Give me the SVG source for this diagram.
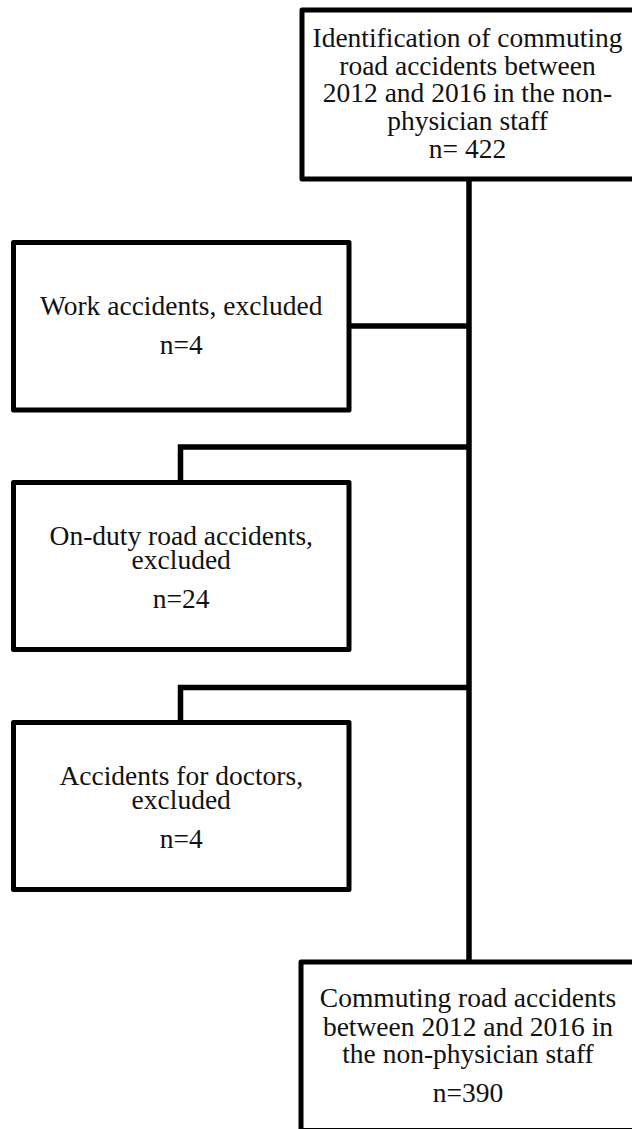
<svg xmlns="http://www.w3.org/2000/svg" width="632" height="1129" viewBox="0 0 632 1129">
<style>
.box{fill:#fff;stroke:#000;stroke-width:5;stroke-linejoin:round}
.con{fill:none;stroke:#000;stroke-width:5.5;stroke-linejoin:miter}
text{font-family:"Liberation Serif","Times New Roman",serif;font-size:27.5px;fill:#111;text-anchor:middle}
</style>
<rect width="632" height="1129" fill="#fff"/>
<g id="connectors">
<path class="con" d="M469,179 V962"/>
<path class="con" d="M349,326 H469"/>
<path class="con" d="M469,447 H180.5 V482.5"/>
<path class="con" d="M469,687.5 H180.5 V722.5"/>
</g>
<g id="identification">
<rect class="box" x="302" y="10" width="333" height="169"/>
<text x="467.5" y="47">Identification of commuting</text>
<text x="467.5" y="74.7">road accidents between</text>
<text x="467.5" y="102.4">2012 and 2016 in the non-</text>
<text x="467.5" y="130.1">physician staff</text>
<text x="467.5" y="157.8">n= 422</text>
</g>
<g id="work">
<rect class="box" x="13.5" y="242.5" width="335.5" height="167.5"/>
<text x="181.25" y="315">Work accidents, excluded</text>
<text x="181.25" y="354">n=4</text>
</g>
<g id="onduty">
<rect class="box" x="13.5" y="482.5" width="335.5" height="167"/>
<text x="181.25" y="545">On-duty road accidents,</text>
<text x="181.25" y="569.3">excluded</text>
<text x="181.25" y="608.3">n=24</text>
</g>
<g id="doctors">
<rect class="box" x="13.5" y="722.5" width="335.5" height="167"/>
<text x="181.25" y="785">Accidents for doctors,</text>
<text x="181.25" y="809.3">excluded</text>
<text x="181.25" y="848.3">n=4</text>
</g>
<g id="result">
<rect class="box" x="301" y="962" width="334" height="168.5"/>
<text x="468" y="1006.7">Commuting road accidents</text>
<text x="468" y="1035.5">between 2012 and 2016 in</text>
<text x="468" y="1062.7">the non-physician staff</text>
<text x="468" y="1101.7">n=390</text>
</g>
</svg>
